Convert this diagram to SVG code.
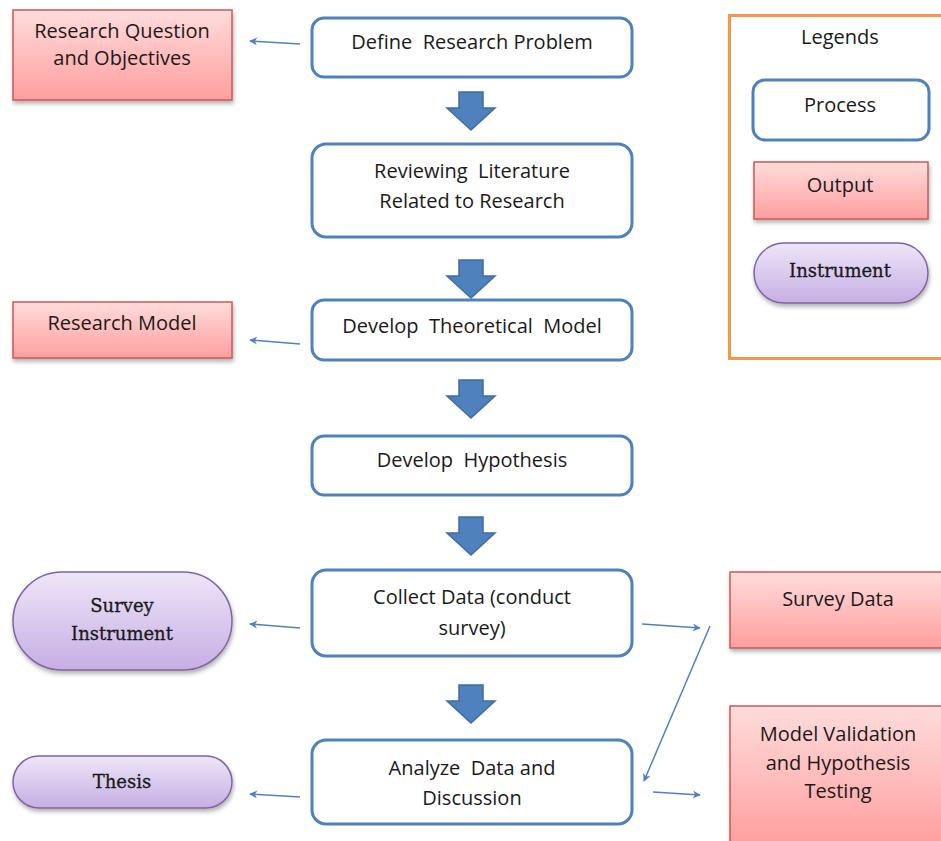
<svg xmlns="http://www.w3.org/2000/svg" width="941" height="841" viewBox="0 0 941 841">
<defs>
<linearGradient id="gRed" x1="0" y1="0" x2="0" y2="1"><stop offset="0" stop-color="#ffdcdc"/><stop offset="1" stop-color="#ff9e9e"/></linearGradient>
<linearGradient id="gPur" x1="0" y1="0" x2="0" y2="1"><stop offset="0" stop-color="#eee6f8"/><stop offset="1" stop-color="#c6aee4"/></linearGradient>
<filter id="sh" x="-10%" y="-10%" width="120%" height="130%"><feDropShadow dx="1" dy="3" stdDeviation="2" flood-color="#000" flood-opacity="0.3"/></filter>
<marker id="ah" viewBox="0 0 10 10" refX="9" refY="5" markerWidth="10" markerHeight="8" markerUnits="userSpaceOnUse" orient="auto"><path d="M0,0 L10,5 L0,10 L3,5 Z" fill="#4f81bd"/></marker>
<path id="blk" d="M-12,0 H12 V16 H24 L0,38 L-24,16 H-12 Z"/>
</defs>
<style>
.proc{fill:#fff;stroke:#4f81bd;stroke-width:3}
.out{fill:url(#gRed);stroke:#c9585a;stroke-width:1.5;filter:url(#sh)}
.ins{fill:url(#gPur);stroke:#8064a2;stroke-width:1.5;filter:url(#sh)}
.t{font-family:"Open Sans","Liberation Sans",sans-serif;font-size:20px;fill:#1a1a1a;text-anchor:middle;white-space:pre}
.s{font-family:"DejaVu Serif","Liberation Serif",serif;font-size:18px;fill:#1a1a1a;stroke:#1a1a1a;stroke-width:0.3;text-anchor:middle}
.c{stroke:#4f81bd;stroke-width:1.5;fill:none;marker-end:url(#ah)}
.b{fill:#4f81bd;stroke:#3f6b9f;stroke-width:1.5}
</style>
<rect width="941" height="841" fill="#fff"/>

<g id="legend">
<rect x="729.5" y="15.5" width="218" height="343" fill="none" stroke="#f79646" stroke-width="3"/>
<text class="t" x="840" y="44">Legends</text>
<rect class="proc" x="753" y="80" width="176" height="60" rx="12"/>
<text class="t" x="840" y="112">Process</text>
<rect class="out" x="754" y="162" width="174" height="57"/>
<text class="t" x="840" y="192">Output</text>
<rect class="ins" x="754" y="243" width="174" height="60" rx="30"/>
<text class="s" x="840" y="277">Instrument</text>
</g>

<g id="p1"><rect class="proc" x="312" y="18" width="320" height="59" rx="12"/><text class="t" x="472" y="49">Define  Research Problem</text></g>
<g id="p2"><rect class="proc" x="312" y="144" width="320" height="93" rx="14"/><text class="t" x="472" y="178">Reviewing  Literature</text><text class="t" x="472" y="208">Related to Research</text></g>
<g id="p3"><rect class="proc" x="312" y="300" width="320" height="60" rx="12"/><text class="t" x="472" y="333">Develop  Theoretical  Model</text></g>
<g id="p4"><rect class="proc" x="312" y="436" width="320" height="59" rx="12"/><text class="t" x="472" y="467">Develop  Hypothesis</text></g>
<g id="p5"><rect class="proc" x="312" y="570" width="320" height="86" rx="14"/><text class="t" x="472" y="604">Collect Data (conduct</text><text class="t" x="472" y="635">survey)</text></g>
<g id="p6"><rect class="proc" x="312" y="740" width="320" height="84" rx="14"/><text class="t" x="472" y="775">Analyze  Data and</text><text class="t" x="472" y="805">Discussion</text></g>

<g id="o1"><rect class="out" x="13" y="10" width="219" height="90"/><text class="t" x="122" y="38">Research Question</text><text class="t" x="122" y="65">and Objectives</text></g>
<g id="o2"><rect class="out" x="13" y="302" width="219" height="56"/><text class="t" x="122" y="330">Research Model</text></g>
<g id="i1"><rect class="ins" x="13" y="572" width="219" height="98" rx="49"/><text class="s" x="122" y="612">Survey</text><text class="s" x="122" y="640">Instrument</text></g>
<g id="i2"><rect class="ins" x="13" y="756" width="219" height="52" rx="26"/><text class="s" x="122" y="788">Thesis</text></g>
<g id="o3"><rect class="out" x="730" y="572" width="220" height="76"/><text class="t" x="838" y="606">Survey Data</text></g>
<g id="o4"><rect class="out" x="730" y="706" width="220" height="140"/><text class="t" x="838" y="741">Model Validation</text><text class="t" x="838" y="770">and Hypothesis</text><text class="t" x="838" y="798">Testing</text></g>

<g id="connectors">
<use href="#blk" class="b" x="471" y="92"/>
<use href="#blk" class="b" x="471" y="260"/>
<use href="#blk" class="b" x="471" y="380"/>
<use href="#blk" class="b" x="471" y="517"/>
<use href="#blk" class="b" x="471" y="685"/>
<line class="c" x1="300" y1="44" x2="250" y2="41"/>
<line class="c" x1="300" y1="344" x2="250" y2="340"/>
<line class="c" x1="300" y1="628" x2="250" y2="624"/>
<line class="c" x1="300" y1="797" x2="250" y2="794"/>
<line class="c" x1="642" y1="624" x2="700" y2="628"/>
<line class="c" x1="710" y1="626" x2="644" y2="781"/>
<line class="c" x1="653" y1="792" x2="700" y2="795"/>
</g>
</svg>
